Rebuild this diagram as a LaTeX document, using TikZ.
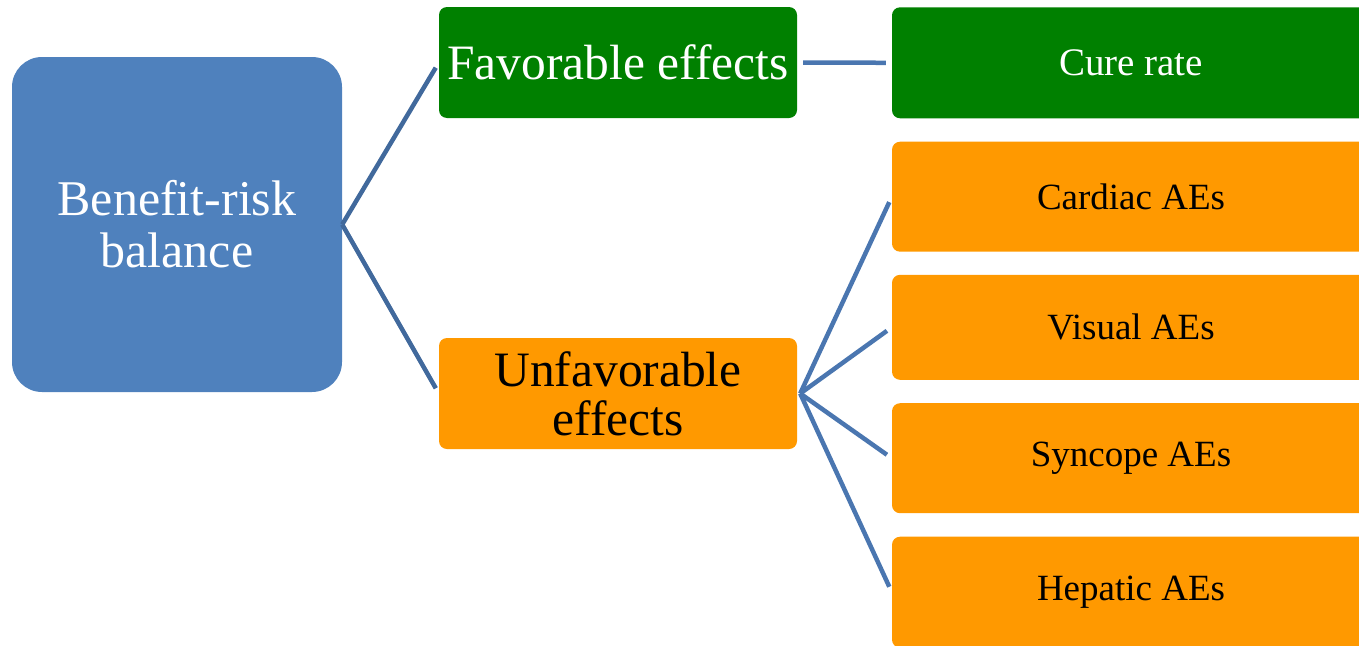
\documentclass[tikz,border=0pt]{standalone}
\usepackage{fontspec}
\setmainfont{Liberation Serif}
\usetikzlibrary{calc}
\definecolor{rootblue}{HTML}{4F81BD}
\definecolor{favgreen}{HTML}{008000}
\definecolor{unforange}{HTML}{FF9900}
\definecolor{linkdark}{HTML}{41699C}
\definecolor{linkblue}{HTML}{4A76B0}
\tikzset{
  box/.style={inner sep=0pt, align=center, rounded corners=8pt},
  rootbox/.style={box, fill=rootblue, text=white, rounded corners=30pt,
    minimum width=330pt, minimum height=335pt,
    font=\fontsize{50}{52}\selectfont},
  favbox/.style={box, fill=favgreen, text=white},
  unfbox/.style={box, fill=unforange, text=black},
  bigtext/.style={font=\fontsize{49.5}{49}\selectfont},
  smalltext/.style={font=\fontsize{37}{40}\selectfont},
  midbox/.style={minimum width=358pt, minimum height=111pt},
  leafbox/.style={minimum width=478pt},
  link/.style={line width=4.5pt, linkblue},
  rootlink/.style={line width=4.5pt, linkdark},
}
\begin{document}
\begin{tikzpicture}[x=1pt, y=-1pt]
\useasboundingbox (0,0) rectangle (1359,645);
\clip (0,0) rectangle (1359,645);

% root
\node[rootbox] (br) at (177,224.5) {Benefit-risk\\balance};

% middle level
\node[favbox, midbox, bigtext] (fav) at (618,62.5) {Favorable effects};
\node[unfbox, midbox, bigtext] (unf) at (618,393.5) {Unfavorable\\effects};

% leaves
\node[favbox, leafbox, smalltext, minimum height=111pt] (cure) at (1131,62.8) {\fontsize{39}{40}\selectfont Cure rate};
\node[unfbox, leafbox, smalltext, minimum height=110pt] (card) at (1131,196.7) {Cardiac AEs};
\node[unfbox, leafbox, smalltext, minimum height=105pt] (vis)  at (1131,327.3) {Visual AEs};
\node[unfbox, leafbox, smalltext, minimum height=110pt] (sync) at (1131,458.2) {Syncope AEs};
\node[unfbox, leafbox, smalltext, minimum height=111pt] (hep)  at (1131,592.2) {Hepatic AEs};

% connectors
\draw[rootlink, shorten >=6pt] (br.east) -- (fav.west);
\draw[rootlink, shorten >=6pt] (br.east) -- (unf.west);
\draw[link, shorten <=6pt, shorten >=6pt] (fav.east) -- (cure.west);
\foreach \leaf in {card, vis, sync, hep}
  \draw[link, shorten >=6pt] ($(unf.east)+(3,0)$) -- (\leaf.west);
\end{tikzpicture}
\end{document}
